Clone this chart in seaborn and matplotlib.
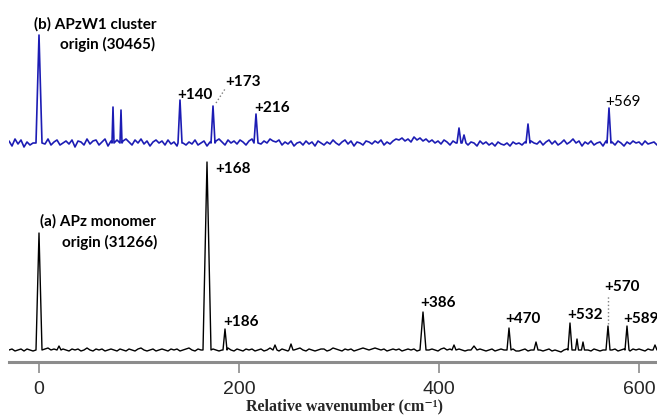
import numpy as np
import pandas as pd
import matplotlib
matplotlib.use("Agg")
import matplotlib.pyplot as plt
import seaborn as sns

# ---------------- data ----------------
grid_start, grid_step = -30, 3   # baseline sampling of the noise (cm-1)

black_noise = [0,1,-1,0,1,-1,1,0,-1,1,
 0,-1,1,2,0,1,-1,0,1,0,
 -1,1,0,1,-1,0,2,0,-1,1,
 0,1,-1,0,1,0,-1,1,0,-1,
 1,0,-1,1,2,0,-1,0,1,-1,
 0,1,0,-1,1,0,1,-1,0,1,
 2,0,-1,1,0,1,-1,0,1,0,
 -1,0,1,2,0,-1,1,0,-1,1,
 0,1,-1,0,1,-1,0,2,1,0,
 -1,1,0,-1,1,0,1,2,0,-1,
 1,0,-1,0,1,1,-1,0,2,1,
 0,-1,1,0,1,-1,0,1,2,1,
 0,1,2,1,0,1,-1,0,1,0,
 1,-1,0,1,0,1,-1,1,0,-1,
 0,1,0,-1,1,2,0,1,-1,0,
 1,0,-1,0,1,-1,0,1,0,-1,
 0,1,-1,0,1,0,-1,0,1,-1,
 -1,0,1,-1,0,-1,1,0,-1,0,
 1,-1,0,-1,-2,0,1,-1,0,-1,
 0,1,-1,0,-1,1,0,-1,0,1,
 -1,0,1,-1,0,1,0,-1,1,0,
 1,0,-1,1,0,-1,1,0,-1,0]

blue_noise = [2,-3,4,-1,3,-4,1,-2,0,3,
 -3,2,-1,4,-2,1,3,-2,0,2,
 -1,3,-4,2,1,-2,4,-1,2,3,
 -2,1,4,-3,2,0,3,-1,2,4,
 1,-2,3,0,4,-1,2,-3,1,3,
 0,2,-2,3,-1,1,-3,2,0,-2,
 1,-1,3,-2,0,2,-3,1,-1,2,
 4,1,-2,3,0,2,-1,3,1,-2,
 2,4,1,3,-1,2,0,4,2,1,
 3,-2,1,-1,2,-3,0,1,-2,2,
 -1,1,-3,2,0,-2,1,-1,3,0,
 -2,1,3,-1,2,-3,1,0,-2,2,
 1,-1,2,0,3,-2,1,-1,2,4,
 3,5,2,4,1,6,3,5,2,4,
 1,3,0,2,-1,3,1,-2,2,0,
 2,-1,3,-2,1,0,-3,2,-1,1,
 -2,0,-3,1,-1,-2,0,-3,1,-1,
 0,-2,1,-3,2,0,-1,2,-2,1,
 3,-1,2,-2,0,3,-1,1,4,0,
 2,-3,1,-1,2,-2,0,1,-3,2,
 -1,1,-2,2,0,-3,1,-1,2,0,
 1,-2,2,-1,0,1,-2,2,-1,1]

# (a) APz monomer peaks: position, height, half-width
black_pos    = [0, 20, 168, 186, 236, 252, 384, 415, 435, 470, 497, 531, 538, 544, 569, 588, 616]
black_height = [117, 4, 188, 21, 5, 6, 38, 5, 4, 22, 8, 27, 11, 8, 24, 24, 5]
black_width  = [3, 2, 4, 2, 2, 2, 3, 2, 3, 2, 2, 2, 1.5, 1.5, 2, 2, 2]

# (b) APzW1 cluster peaks
blue_pos    = [0, 74, 82, 141, 174, 217, 420, 425, 489, 570]
blue_height = [108, 36, 33, 43, 37, 29, 15, 8, 19, 35]
blue_width  = [3, 1, 1, 2, 2, 2, 2, 2, 2, 2]
blue_offset = 207

black_labels = ["+168", "+186", "+386", "+470", "+532", "+570", "+589"]
black_lab_x  = [176, 184, 381, 466, 528, 565, 584]
black_lab_y  = [181, 28, 47, 31, 35, 63, 31]

blue_labels = ["+140", "+173", "+216"]
blue_lab_x  = [138, 186, 215]
blue_lab_y  = [255, 268, 242]

x_ticks = [0, 200, 400, 600]


def build_trace(noise, pos, height, width, offset):
    gx = grid_start + grid_step * np.arange(len(noise))
    gy = np.array(noise, dtype=float)
    keep = np.ones(len(gx), bool)
    for p, w in zip(pos, width):
        keep &= np.abs(gx - p) > w + 0.5
    xs = list(gx[keep]); ys = list(gy[keep])
    for p, h, w in zip(pos, height, width):
        xs += [p - w, p, p + w]
        ys += [0.0, h, 0.0]
    df = pd.DataFrame({"x": xs, "y": ys}).sort_values("x")
    df["y"] = df["y"] + offset
    return df


black_df = build_trace(black_noise, black_pos, black_height, black_width, 0)
blue_df = build_trace(blue_noise, blue_pos, blue_height, blue_width, blue_offset)

# ---------------- plot ----------------
sns.set_style("white")
fig = plt.figure(figsize=(6.57, 4.16), dpi=100)
ax = fig.add_axes([9 / 657, 1 - 362 / 416, 648 / 657, 362 / 416])

sns.lineplot(data=blue_df, x="x", y="y", sort=False, estimator=None,
             color="#1c1cb4", linewidth=1.2, ax=ax)
sns.lineplot(data=black_df, x="x", y="y", sort=False, estimator=None,
             color="black", linewidth=1.0, ax=ax)

ax.set_xlim(-30, 618)
ax.set_ylim(-12, 350)

lab_font = dict(family="Lato", fontweight="bold", fontsize=11, color="black")

ax.text(118, 326, "(b) APzW1 cluster", ha="right", va="center", **lab_font)
ax.text(116, 306, "origin (30465)", ha="right", va="center", **lab_font)
ax.text(117, 129, "(a) APz monomer", ha="right", va="center", **lab_font)
ax.text(118, 108, "origin (31266)", ha="right", va="center", **lab_font)

for t, x, y in zip(black_labels, black_lab_x, black_lab_y):
    ax.text(x, y, t, ha="left", va="center", clip_on=False, **lab_font)
for t, x, y in zip(blue_labels, blue_lab_x, blue_lab_y):
    ax.text(x, y, t, ha="left", va="center", **lab_font)
ax.text(566, 248, "+569", ha="left", va="center", family="Lato",
        fontsize=11, color="black")

# dotted leader lines
ax.plot([177, 186], [247, 261], ls=":", color="#808080", lw=1)
ax.plot([569, 569], [26, 54], ls=":", color="#808080", lw=1)

sns.despine(ax=ax, left=True, top=True, right=True)
ax.spines["bottom"].set_color("#8c8c8c")
ax.spines["bottom"].set_linewidth(2.2)
ax.set_yticks([])
ax.set_xticks(x_ticks)
ax.tick_params(axis="x", bottom=True, direction="out", length=8, width=1.2,
               color="#8c8c8c", labelsize=14, pad=6)
for lbl in ax.get_xticklabels():
    lbl.set_family("Liberation Sans")
ax.set_xlabel("Relative wavenumber (cm\u207b\u00b9)",
              family=["Liberation Serif", "DejaVu Serif"],
              fontweight="bold", fontsize=11.5)
ax.xaxis.set_label_coords((345 - 9) / 648, -(398 - 362) / 362)
ax.set_ylabel("")
ax.grid(False)

fig.savefig("out.png", dpi=100)
